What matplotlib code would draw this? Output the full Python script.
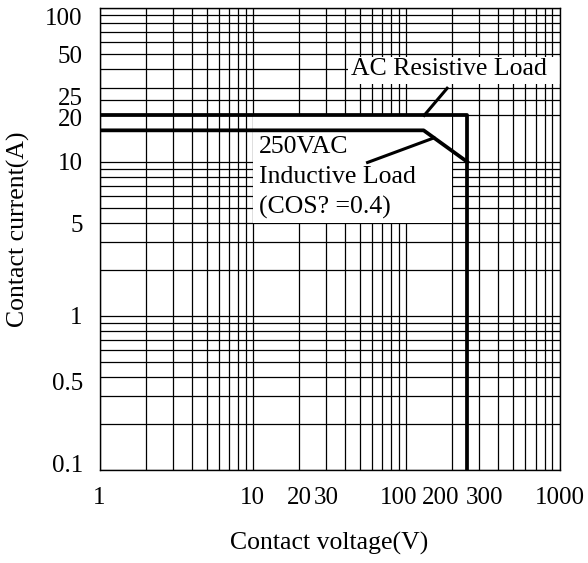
import matplotlib
matplotlib.use('Agg')
import matplotlib.pyplot as plt
from matplotlib.patches import Rectangle
from matplotlib.transforms import ScaledTranslation

plt.rcParams['font.family'] = ['Liberation Serif', 'DejaVu Serif']

# Tick positions / labels
x_ticks = [1, 10, 20, 30, 100, 200, 300, 1000]
y_ticks = [0.1, 0.5, 1, 5, 10, 20, 25, 50, 100]

# Load curves (contact voltage V, contact current A)
ac_voltage = [1, 250, 250]
ac_current = [20, 20, 0.1]
ind_voltage = [1, 130, 250]
ind_current = [16, 16, 10]

# Leader lines: (label end, curve end)
ac_leader_v = [185, 131]
ac_leader_i = [30, 20]
ind_leader_v = [56, 152]
ind_leader_i = [9.9, 14.3]

# log grid positions
grid_x = [m * 10 ** d for d in range(0, 3) for m in range(1, 10)] + [1000]
grid_y = [m * 10 ** d for d in range(-1, 2) for m in range(1, 10)] + [25, 100]

# label nudges (pixels) so crowded labels sit like in the original sheet
x_nudge = {100: -8, 200: -12, 300: 5}
y_nudge = {100: -9, 0.1: 7, 5: -15, 0.5: -19, 25: 4, 20: -2}

fig = plt.figure(figsize=(5.88, 5.63), dpi=100)
ax = fig.add_axes([99.5 / 588, 1 - 470 / 563, 460 / 588, 462.3 / 563])
ax.set_xscale('log')
ax.set_yscale('log')
ax.set_xlim(1, 1000)
ax.set_ylim(0.1, 100)

ax.set_xticks(x_ticks)
ax.set_xticklabels([str(v) for v in x_ticks])
ax.set_yticks(y_ticks)
ax.set_yticklabels([('%g' % v) for v in y_ticks])
ax.minorticks_off()
ax.tick_params(length=0, labelsize=18, pad=12)
ax.tick_params(axis='y', pad=12)

for v, lab in zip(x_ticks, ax.get_xticklabels()):
    if v in x_nudge:
        lab.set_transform(lab.get_transform() +
                          ScaledTranslation(x_nudge[v] / 100, 0, fig.dpi_scale_trans))
for v, lab in zip(y_ticks, ax.get_yticklabels()):
    if v in y_nudge:
        lab.set_transform(lab.get_transform() +
                          ScaledTranslation(0, y_nudge[v] / 100, fig.dpi_scale_trans))

for gx in grid_x:
    ax.axvline(gx, color='black', lw=0.9, zorder=1)
for gy in grid_y:
    ax.axhline(gy, color='black', lw=0.9, zorder=1)

# white boxes behind the labels
ax.add_patch(Rectangle((42, 32), 1000 - 42, 48 - 32, facecolor='white',
                       edgecolor='none', zorder=2))
ax.add_patch(Rectangle((10, 4), 200 - 10, 20 - 4, facecolor='white',
                       edgecolor='none', zorder=2))

ax.plot(ac_voltage, ac_current, color='black', lw=2.7, zorder=3)
ax.plot(ind_voltage, ind_current, color='black', lw=2.7, zorder=3)
ax.plot(ac_leader_v, ac_leader_i, color='black', lw=2.2, zorder=3)
ax.plot(ind_leader_v, ind_leader_i, color='black', lw=2.2, zorder=3)

ax.text(44, 40, 'AC Resistive Load', fontsize=18.5, ha='left', va='center', zorder=4)
ax.text(11, 14.6, '250VAC\nInductive Load\n(COS? =0.4)', fontsize=18.5,
        ha='left', va='top', linespacing=1.45, zorder=4)

for s in ax.spines.values():
    s.set_linewidth(1.0)
    s.set_zorder(5)

ax.set_xlabel('Contact voltage(V)', fontsize=18.5, labelpad=17)
ax.set_ylabel('Contact current(A)', fontsize=18.5)
ax.yaxis.set_label_coords(-0.15, 0.52)

fig.savefig('out.png', dpi=100)
